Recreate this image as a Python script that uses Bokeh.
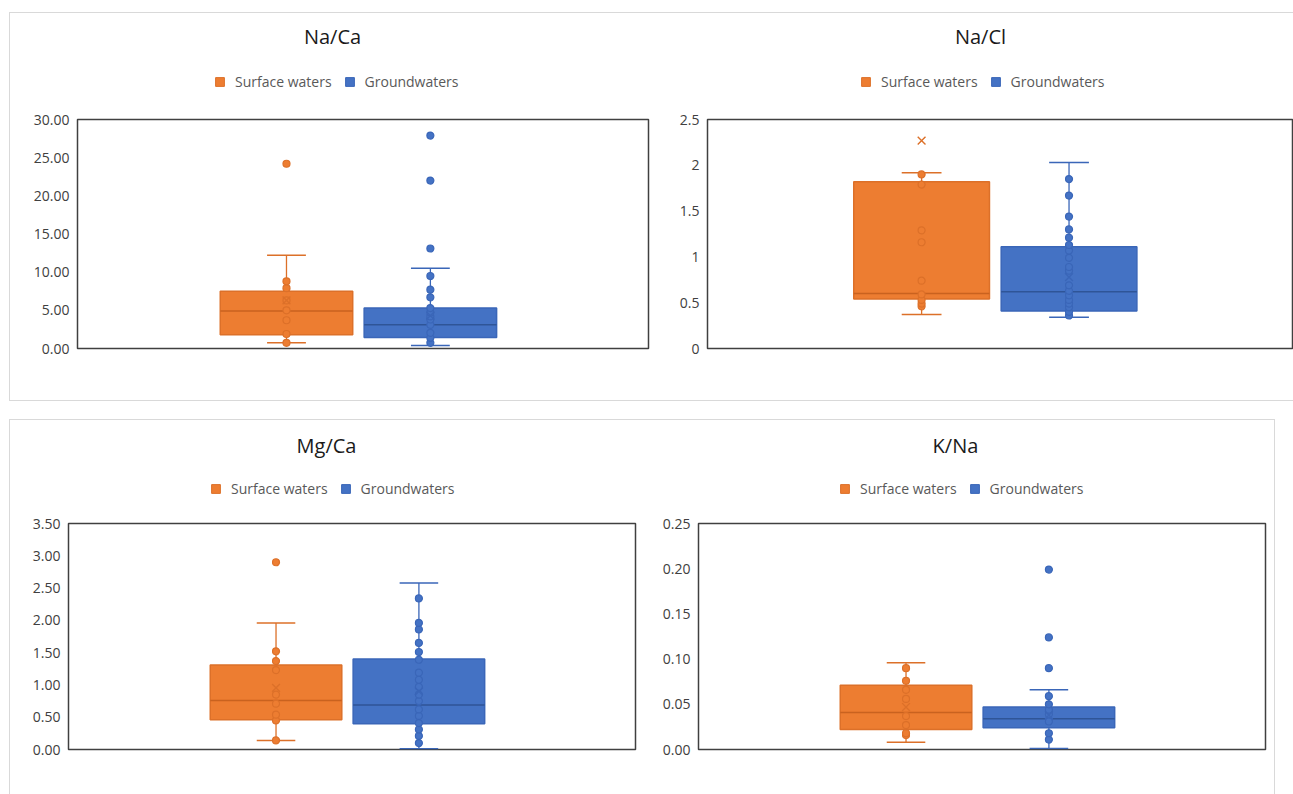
from bokeh.plotting import figure
from bokeh.models import (Legend, LegendItem, FixedTicker, NumeralTickFormatter, Range1d, Label)
from bokeh.layouts import row, column
from bokeh.embed import file_html
from bokeh.resources import INLINE

# ---------------- data ----------------
series_names = ["Surface waters", "Groundwaters"]

# stats order: [whisker_low, q1, median, q3, whisker_high, mean]
naca_surface_stats = [0.75, 1.8, 4.9, 7.5, 12.2, 6.3]
naca_surface_points = [0.75, 1.9, 3.7, 5.0, 6.3, 7.9, 8.8]
naca_surface_outliers = [24.2]
naca_ground_stats = [0.4, 1.45, 3.1, 5.3, 10.5, 4.3]
naca_ground_points = [0.75, 1.4, 2.05, 3.1, 3.8, 4.2, 4.7, 5.3, 6.7, 7.7, 9.5]
naca_ground_outliers = [13.1, 22.0, 27.9]
naca_ticks = [0, 5, 10, 15, 20, 25, 30]

nacl_surface_stats = [0.37, 0.54, 0.60, 1.82, 1.92, 2.27]
nacl_surface_points = [0.46, 0.49, 0.53, 0.59, 0.74, 1.16, 1.29, 1.79, 1.90]
nacl_surface_outliers = []
nacl_ground_stats = [0.34, 0.41, 0.62, 1.11, 2.03, 0.78]
nacl_ground_points = [0.36, 0.40, 0.45, 0.49, 0.53, 0.58, 0.63, 0.69, 0.85, 0.89,
                      0.99, 1.07, 1.13, 1.21, 1.30, 1.44, 1.67, 1.85]
nacl_ground_outliers = []
nacl_ticks = [0, 0.5, 1, 1.5, 2, 2.5]

mgca_surface_stats = [0.14, 0.46, 0.76, 1.31, 1.96, 0.955]
mgca_surface_points = [0.14, 0.45, 0.54, 0.71, 0.85, 1.23, 1.37, 1.52]
mgca_surface_outliers = [2.90]
mgca_ground_stats = [0.01, 0.40, 0.69, 1.40, 2.58, 0.90]
mgca_ground_points = [0.10, 0.21, 0.31, 0.41, 0.52, 0.62, 0.75, 0.85, 0.97, 1.08,
                      1.19, 1.39, 1.51, 1.65, 1.86, 1.96, 2.34]
mgca_ground_outliers = []
mgca_ticks = [0, 0.5, 1.0, 1.5, 2.0, 2.5, 3.0, 3.5]

kna_surface_stats = [0.008, 0.022, 0.041, 0.071, 0.096, 0.047]
kna_surface_points = [0.016, 0.018, 0.027, 0.037, 0.056, 0.066, 0.076, 0.090]
kna_surface_outliers = []
kna_ground_stats = [0.001, 0.024, 0.034, 0.047, 0.066, 0.038]
kna_ground_points = [0.011, 0.018, 0.031, 0.039, 0.044, 0.050, 0.059]
kna_ground_outliers = [0.090, 0.124, 0.199]
kna_ticks = [0, 0.05, 0.10, 0.15, 0.20, 0.25]

# ---------------- styling ----------------
FONT = "Open Sans"
FILL = ["#ED7D31", "#4472C4"]
EDGE = ["#DC7029", "#3A66B8"]
MED = ["#C9621F", "#2F5597"]
CENTERS = [0.366, 0.618]
BOX_W = 0.232
CAP_HALF = 0.034


def draw_series(p, k, stats, points, outliers):
    wlo, q1, med, q3, whi, mean = stats
    c = CENTERS[k]
    p.segment(x0=[c], y0=[wlo], x1=[c], y1=[whi], line_color=EDGE[k], line_width=1.3)
    p.segment(x0=[c - CAP_HALF, c - CAP_HALF], y0=[wlo, whi],
              x1=[c + CAP_HALF, c + CAP_HALF], y1=[wlo, whi],
              line_color=EDGE[k], line_width=1.5)
    p.vbar(x=[c], width=BOX_W, bottom=[q1], top=[q3], fill_color=FILL[k],
           line_color=EDGE[k], line_width=1.5)
    p.segment(x0=[c - BOX_W / 2], y0=[med], x1=[c + BOX_W / 2], y1=[med],
              line_color=MED[k], line_width=1.5)
    pts = list(points) + list(outliers)
    if pts:
        p.scatter(x=[c] * len(pts), y=pts, size=7, marker="circle",
                  fill_color=FILL[k], line_color=EDGE[k], line_width=1.2)
    p.scatter(x=[c], y=[mean], marker="x", size=11, line_color=EDGE[k],
              line_width=1.4, fill_color=None)


def make_header(title, stats_pair, w, h, title_xy, legend_xy):
    # header strip holding the chart title and the legend; the key boxes are hidden
    # renderers, so only their legend swatches are drawn
    hd = figure(width=w, height=h, output_backend="svg", toolbar_location=None,
                x_range=Range1d(0, 1), y_range=Range1d(0, 1),
                x_axis_type=None, y_axis_type=None, min_border=0)
    hd.xgrid.visible = False
    hd.ygrid.visible = False
    hd.outline_line_color = None
    hd.border_fill_alpha = 0
    hd.background_fill_alpha = 0
    keys = []
    for k in range(2):
        r = hd.vbar(x=[CENTERS[k]], width=BOX_W, bottom=[stats_pair[k][1]],
                    top=[stats_pair[k][3]], fill_color=FILL[k], line_color=EDGE[k],
                    line_width=1)
        r.visible = False
        keys.append(r)
    legend = Legend(items=[LegendItem(label=series_names[k], renderers=[keys[k]])
                           for k in range(2)],
                    orientation="horizontal", location=legend_xy,
                    glyph_width=11, glyph_height=11, label_height=14,
                    label_standoff=10, spacing=12, padding=0, margin=0,
                    border_line_color=None, background_fill_alpha=0,
                    inactive_fill_alpha=0,
                    label_text_font=FONT, label_text_font_size="14px",
                    label_text_color="#595959", label_text_baseline="middle")
    hd.add_layout(legend, "center")
    hd.add_layout(Label(x=title_xy[0], y=title_xy[1], x_units="screen", y_units="screen",
                        text=title, text_align="center", text_baseline="middle",
                        text_font=FONT, text_font_size="20px", text_color="#1a1a1a"))
    return hd


def make_chart(ticks, fmt, surface, ground, w, h, borders):
    bl, br, bt, bb = borders
    p = figure(width=w, height=h, output_backend="svg", toolbar_location=None,
               x_range=Range1d(0, 1), y_range=Range1d(ticks[0], ticks[-1]),
               min_border_left=bl, min_border_right=br, min_border_top=bt,
               min_border_bottom=bb)
    p.xaxis.visible = False
    p.xgrid.visible = False
    p.ygrid.visible = False
    p.outline_line_color = "#404040"
    p.outline_line_width = 1.5
    p.border_fill_alpha = 0
    p.background_fill_color = "white"
    ax = p.yaxis[0]
    ax.ticker = FixedTicker(ticks=ticks)
    ax.formatter = NumeralTickFormatter(format=fmt)
    ax.axis_line_color = None
    ax.major_tick_line_color = None
    ax.minor_tick_line_color = None
    ax.major_tick_out = 0
    ax.major_label_standoff = 8
    ax.major_label_text_font = FONT
    ax.major_label_text_font_size = "14px"
    ax.major_label_text_color = "#404040"
    draw_series(p, 0, *surface)
    draw_series(p, 1, *ground)
    return p


p1 = column(make_header("Na/Ca", (naca_surface_stats, naca_ground_stats),
                        650, 109, (255, 73), (137, 18)),
            make_chart(naca_ticks, "0.00",
                       (naca_surface_stats, naca_surface_points, naca_surface_outliers),
                       (naca_ground_stats, naca_ground_points, naca_ground_outliers),
                       650, 301, (77, 2, 10, 62)))
p2 = column(make_header("Na/Cl", (nacl_surface_stats, nacl_ground_stats),
                        643, 109, (273, 73), (153, 18)),
            make_chart(nacl_ticks, "0.[0]",
                       (nacl_surface_stats, nacl_surface_points, nacl_surface_outliers),
                       (nacl_ground_stats, nacl_ground_points, nacl_ground_outliers),
                       643, 301, (57, 1, 10, 62)))
p3 = column(make_header("Mg/Ca", (mgca_surface_stats, mgca_ground_stats),
                        650, 103, (258, 68), (142, 15)),
            make_chart(mgca_ticks, "0.00",
                       (mgca_surface_stats, mgca_surface_points, mgca_surface_outliers),
                       (mgca_ground_stats, mgca_ground_points, mgca_ground_outliers),
                       650, 281, (68, 15, 10, 45)))
p4 = column(make_header("K/Na", (kna_surface_stats, kna_ground_stats),
                        643, 103, (257, 68), (141, 15)),
            make_chart(kna_ticks, "0.00",
                       (kna_surface_stats, kna_surface_points, kna_surface_outliers),
                       (kna_ground_stats, kna_ground_points, kna_ground_outliers),
                       643, 281, (48, 28, 10, 45)))

G = "linear-gradient(#d9d9d9,#d9d9d9)"
top_row = row(p1, p2, styles={
    "background-image": ", ".join([G] * 3),
    "background-size": "1284px 1px, 1px 389px, 1284px 1px",
    "background-position": "9px 12px, 9px 12px, 9px 400px",
    "background-repeat": "no-repeat",
})
bottom_row = row(p3, p4, styles={
    "background-image": ", ".join([G] * 3),
    "background-size": "1266px 1px, 1px 380px, 1px 380px",
    "background-position": "9px 9px, 9px 9px, 1274px 9px",
    "background-repeat": "no-repeat",
})
layout = column(top_row, bottom_row)

open("out.html", "w").write(file_html(layout, INLINE))
